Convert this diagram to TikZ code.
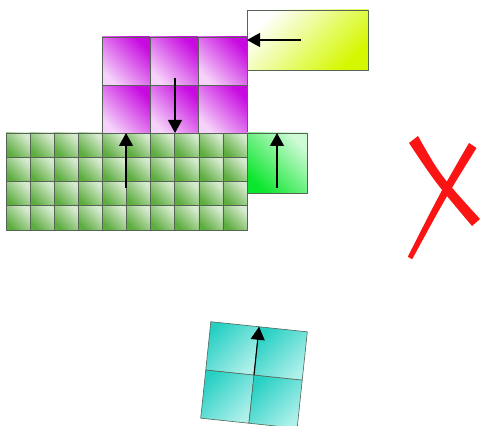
\documentclass[tikz,border=0pt]{standalone}
\usetikzlibrary{arrows.meta}

\begin{document}
\begin{tikzpicture}[x=1pt, y=1pt, line join=round]
		% Definición de colores
		\definecolor{verdecelda}{RGB}{92,172,62}   % Verde de la rejilla grande
		\definecolor{magenta2}{RGB}{200,10,225}    % Magenta de la rejilla 3x2
		\definecolor{verdevivo}{RGB}{10,230,45}    % Verde brillante
		\definecolor{amarillo}{RGB}{212,248,0}     % Amarillo verdoso
		\definecolor{cian}{RGB}{40,208,196}        % Turquesa
		\definecolor{cianclaro}{RGB}{175,240,235}  % Turquesa claro
		\definecolor{bordegris}{RGB}{85,100,85}    % Bordes de las celdas
		\definecolor{rojo}{RGB}{250,20,20}         % Cruz roja
		
		% --- Marco (tamaño de la imagen) ---
		\useasboundingbox (0,0) rectangle (481,425);
		
		\tikzset{celda/.style={draw=bordegris, line width=0.6pt},
			flecha/.style={-{Triangle[width=14pt,length=13pt]}, line width=1.1pt}}
		
		% --- Rejilla verde (10 x 4) ---
		\foreach \i in {0,...,9} {
			\foreach \j in {0,...,3} {
				\shade[celda, top color=verdecelda!25!white, middle color=verdecelda!65!white,
				bottom color=verdecelda, shading angle=-45]
				({6+24.1*\i},{195+24.25*\j}) rectangle ++(24.1,24.25);
			}
		}
		
		% --- Rejilla magenta (3 x 2) ---
		\foreach \i in {0,1,2} {
			\foreach \j in {0,1} {
				\shade[celda, top color=magenta2, middle color=magenta2!62!white,
				bottom color=magenta2!18!white, shading angle=-45]
				({102+48.3*\i},{292+48*\j}) rectangle ++(48.3,48);
			}
		}
		
		% --- Rectángulos sueltos ---
		\shade[celda, top color=white, middle color=amarillo!60!white,
		bottom color=amarillo, shading angle=45]
		(247,355) rectangle (368,415);
		\shade[celda, top color=verdevivo!20!white, middle color=verdevivo!55!white,
		bottom color=verdevivo, shading angle=-45]
		(247,232) rectangle (307,292);
		
		% --- Cuadrado turquesa girado (2 x 2) ---
		\begin{scope}[shift={(254,50)}, rotate=-6]
			\foreach \i in {0,1} {
				\foreach \j in {0,1} {
					\shade[celda, top color=cian, middle color=cian!75!white,
					bottom color=cianclaro, shading angle=45]
					({-48.5+48.5*\i},{-48.5+48.5*\j}) rectangle ++(48.5,48.5);
				}
			}
			\coordinate (cianCentro) at (0,0);
			\coordinate (cianArriba) at (0,48.5);
		\end{scope}
		
		% --- Puntos de las flechas ---
		\coordinate (amarilloCentro) at (301,385);
		\coordinate (amarilloBorde) at (247,385);
		\coordinate (magentaCentro) at (175,347);
		\coordinate (magentaBorde) at (175,292);
		\coordinate (verdeCentro) at (126,237);
		\coordinate (verdeBorde) at (126,292);
		\coordinate (vivoCentro) at (277,237);
		\coordinate (vivoBorde) at (277,292);
		
		% --- Flechas ---
		\draw[flecha] (amarilloCentro) -- (amarilloBorde);
		\draw[flecha] (magentaCentro) -- (magentaBorde);
		\draw[flecha] (verdeCentro) -- (verdeBorde);
		\draw[flecha] (vivoCentro) -- (vivoBorde);
		\draw[flecha] (cianCentro) -- (cianArriba);
		
		% --- Cruz roja ---
		\fill[rojo] (409,282) -- (418,289) .. controls (440,250) .. (480,206)
		-- (472,199) .. controls (435,243) .. cycle;
		\fill[rojo] (476.5,277) -- (469,282) .. controls (440,232) .. (407.8,168.2)
		-- (412.2,165.8) .. controls (446,228) .. cycle;
		
	\end{tikzpicture}
\end{document}
